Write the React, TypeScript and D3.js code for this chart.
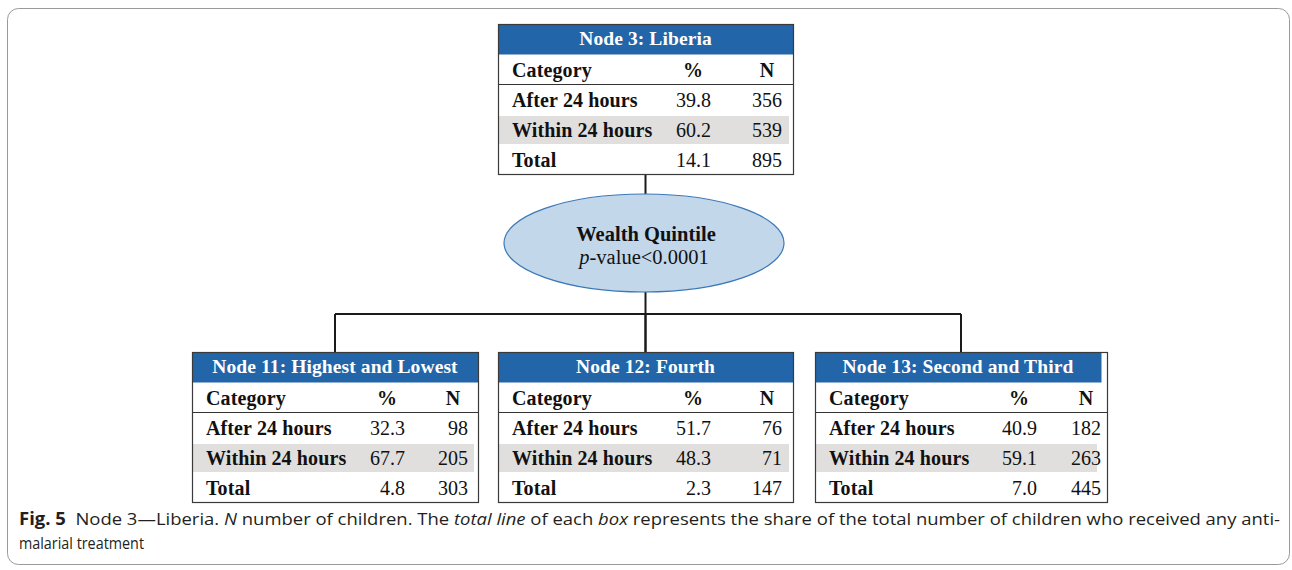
import React, { useEffect, useRef } from "react";
import * as d3 from "d3";

// ---- data ----
const nodeTitles = [
  "Node 3: Liberia",
  "Node 11: Highest and Lowest",
  "Node 12: Fourth",
  "Node 13: Second and Third",
];
const categories = ["After 24 hours", "Within 24 hours", "Total"];
const pctValues = [
  [39.8, 60.2, 14.1],
  [32.3, 67.7, 4.8],
  [51.7, 48.3, 2.3],
  [40.9, 59.1, 7.0],
];
const nValues = [
  [356, 539, 895],
  [98, 205, 303],
  [76, 71, 147],
  [182, 263, 445],
];
const splitVariable = "Wealth Quintile";
const splitP = "<0.0001";
const columnLabels = ["Category", "%", "N"];

// ---- layout (not data) ----
const W = 1292;
const H = 570;
const boxLayout = [
  { x: 498, y: 24, w: 295, headW: 295, pct: 213, nPad: 11 },
  { x: 192, y: 352, w: 286, headW: 286, pct: 213, nPad: 10 },
  { x: 498, y: 352, w: 295, headW: 295, pct: 213, nPad: 11 },
  { x: 815, y: 352, w: 292, headW: 286, pct: 222, nPad: 6 },
];
const BOX_H = 150;
const BLUE = "#2265a9";
const BAND = "#e0dfdd";
const SERIF = "'Liberation Serif', 'Times New Roman', serif";
const FS = 20;

function drawChart(el: SVGSVGElement) {
  const svg = d3.select(el);
  svg.selectAll("*").remove();

  // outer frame
  svg.append("rect")
    .attr("x", 7.5).attr("y", 8.5)
    .attr("width", 1282).attr("height", 556)
    .attr("rx", 11)
    .attr("fill", "#fff")
    .attr("stroke", "#9a9a9a")
    .attr("stroke-width", 1);

  const rowKeys = ["head", "cols", ...categories];

  // connectors
  const top = boxLayout[0];
  const cx = top.x + top.w / 2;
  const ell = { cx: 644, cy: 243, rx: 140, ry: 49 };
  const barY = 314;
  const kids = boxLayout.slice(1);
  const kidX = kids.map(b => b.x + b.w / 2);
  const lines = svg.append("g").attr("stroke", "#1a1a1a").attr("stroke-width", 2).attr("fill", "none");
  lines.append("line").attr("x1", cx).attr("x2", cx).attr("y1", top.y + BOX_H).attr("y2", ell.cy - ell.ry);
  lines.append("line").attr("x1", cx).attr("x2", cx).attr("y1", ell.cy + ell.ry).attr("y2", kids[1].y);
  lines.append("line").attr("x1", d3.min(kidX)!).attr("x2", d3.max(kidX)!).attr("y1", barY).attr("y2", barY);
  kidX.forEach((kx, i) => {
    lines.append("line").attr("x1", kx).attr("x2", kx).attr("y1", barY).attr("y2", kids[i].y);
  });

  // split ellipse
  svg.append("ellipse")
    .attr("cx", ell.cx).attr("cy", ell.cy)
    .attr("rx", ell.rx).attr("ry", ell.ry)
    .attr("fill", "#c3d7ea")
    .attr("stroke", "#3b78b8")
    .attr("stroke-width", 1.2);
  svg.append("text")
    .attr("x", ell.cx + 2).attr("y", 241)
    .attr("text-anchor", "middle")
    .attr("font-family", SERIF).attr("font-size", 20.5).attr("font-weight", "bold")
    .attr("fill", "#111")
    .text(splitVariable);
  const pt = svg.append("text")
    .attr("x", ell.cx).attr("y", 264)
    .attr("text-anchor", "middle")
    .attr("font-family", SERIF).attr("font-size", 20.5)
    .attr("fill", "#111");
  pt.append("tspan").attr("font-style", "italic").text("p");
  pt.append("tspan").text("-value" + splitP);

  // node boxes
  nodeTitles.forEach((title, i) => {
    const b = boxLayout[i];
    const y = d3.scaleBand<string>().domain(rowKeys).range([b.y, b.y + BOX_H]);
    const g = svg.append("g");

    g.append("rect")
      .attr("x", b.x + 0.5).attr("y", b.y + 0.5)
      .attr("width", b.w).attr("height", BOX_H)
      .attr("fill", "#fff");

    // shaded "within" row
    g.append("rect")
      .attr("x", b.x + 1).attr("y", y(categories[1])! + 2)
      .attr("width", b.headW - 5).attr("height", y.bandwidth() - 2)
      .attr("fill", BAND);

    // header
    g.append("rect")
      .attr("x", b.x + 0.5).attr("y", b.y + 0.5)
      .attr("width", b.headW).attr("height", y.bandwidth())
      .attr("fill", BLUE);
    g.append("text")
      .attr("x", b.x + b.headW / 2).attr("y", y("head")! + 21)
      .attr("text-anchor", "middle")
      .attr("font-family", SERIF).attr("font-size", 19.5).attr("font-weight", "bold")
      .attr("letter-spacing", 0.1)
      .attr("fill", "#fff")
      .text(title);

    // rule under column labels
    g.append("line")
      .attr("x1", b.x).attr("x2", b.x + b.w)
      .attr("y1", y("cols")! + y.bandwidth() + 0.5)
      .attr("y2", y("cols")! + y.bandwidth() + 0.5)
      .attr("stroke", "#333").attr("stroke-width", 1);

    // border
    g.append("rect")
      .attr("x", b.x + 0.5).attr("y", b.y + 0.5)
      .attr("width", b.w).attr("height", BOX_H)
      .attr("fill", "none")
      .attr("stroke", "#3a3a3a").attr("stroke-width", 1.2);

    const catX = b.x + 14;
    const pctR = b.x + b.pct;
    const nR = b.x + b.w - b.nPad;
    const base = (k: string) => y(k)! + 23;

    const txt = (x: number, yy: number, s: string, anchor: string, bold: boolean) =>
      g.append("text")
        .attr("x", x).attr("y", yy)
        .attr("text-anchor", anchor)
        .attr("font-family", SERIF).attr("font-size", FS)
        .attr("font-weight", bold ? "bold" : "normal")
        .attr("letter-spacing", bold ? 0.12 : 0)
        .attr("fill", "#111")
        .text(s);

    txt(catX, base("cols"), columnLabels[0], "start", true);
    txt(pctR - 18, base("cols"), columnLabels[1], "middle", true);
    txt(nR - 15, base("cols"), columnLabels[2], "middle", true);

    categories.forEach((c, j) => {
      txt(catX, base(c), c, "start", true);
      txt(pctR, base(c), d3.format(".1f")(pctValues[i][j]), "end", false);
      txt(nR, base(c), String(nValues[i][j]), "end", false);
    });
  });

  // caption
  const cap = svg.append("g")
    .attr("font-family", "'Open Sans', 'Noto Sans', sans-serif")
    .attr("font-size", 17)
    .attr("fill", "#231f20");
  const l1 = cap.append("text")
    .attr("x", 19).attr("y", 525)
    .attr("textLength", 1261)
    .attr("lengthAdjust", "spacingAndGlyphs");
  l1.append("tspan").attr("font-weight", "bold").text("Fig. 5");
  l1.append("tspan").text("\u00a0 Node 3\u2014Liberia. ");
  l1.append("tspan").attr("font-style", "italic").text("N");
  l1.append("tspan").text(" number of children. The ");
  l1.append("tspan").attr("font-style", "italic").text("total line");
  l1.append("tspan").text(" of each ");
  l1.append("tspan").attr("font-style", "italic").text("box");
  l1.append("tspan").text(" represents the share of the total number of children who received any anti-");
  cap.append("text")
    .attr("x", 19).attr("y", 549)
    .attr("textLength", 125)
    .attr("lengthAdjust", "spacingAndGlyphs")
    .text("malarial treatment");
}

export default function App() {
  const ref = useRef<SVGSVGElement>(null);
  useEffect(() => {
    if (ref.current) drawChart(ref.current);
  }, []);
  return (
    <svg
      ref={ref}
      width={W}
      height={H}
      style={{ position: "absolute", left: 0, top: 0, background: "#fff" }}
    />
  );
}
